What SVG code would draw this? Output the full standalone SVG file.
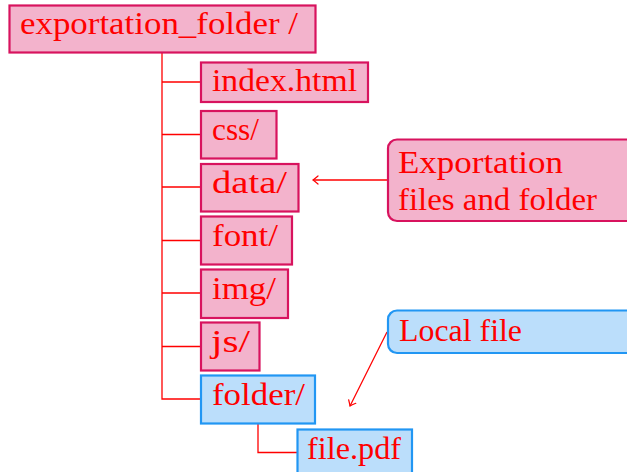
<svg xmlns="http://www.w3.org/2000/svg" width="627" height="472" viewBox="0 0 627 472">
  <defs>
    <style>
      .lbl { font-family: "Liberation Serif", "Times New Roman", serif; font-size: 31px; fill: #ff0000; }
      .pink { fill: #f3b3cc; stroke: #d8135e; stroke-width: 2.2; }
      .blue { fill: #bbdefb; stroke: #2196f3; stroke-width: 2.2; }
      .wire { fill: none; stroke: #ff0000; stroke-width: 1.3; }
    </style>
    <marker id="tip" viewBox="-6 -5 8 10" markerWidth="8" markerHeight="10" refX="0" refY="0" orient="auto" markerUnits="userSpaceOnUse">
      <path d="M -5 -4 Q -1.5 -1 0 0 Q -1.5 1 -5 4" fill="none" stroke="#ff0000" stroke-width="1.2" stroke-linecap="round"/>
    </marker>
  </defs>

  <!-- tree connectors and callout arrows -->
  <g id="connectors">
    <path class="wire" d="M162 53 V399 H201"/>
    <path class="wire" d="M162 82 H201 M162 134.5 H201 M162 187 H201 M162 240.5 H201 M162 293 H201 M162 346.5 H201"/>
    <path class="wire" d="M258 424 V452.5 H297"/>
    <line class="wire" x1="388" y1="180" x2="313" y2="180" marker-end="url(#tip)"/>
    <line class="wire" x1="387" y1="332" x2="350" y2="406" marker-end="url(#tip)"/>
  </g>

  <g id="root">
    <rect class="pink" x="9.5" y="5.5" width="306" height="47"/>
    <text class="lbl" x="20" y="34" textLength="278" lengthAdjust="spacingAndGlyphs">exportation_folder /</text>
  </g>

  <g id="index-html">
    <rect class="pink" x="201" y="62.5" width="167" height="39.5"/>
    <text class="lbl" x="212" y="91" textLength="145" lengthAdjust="spacingAndGlyphs">index.html</text>
  </g>

  <g id="css">
    <rect class="pink" x="201" y="111" width="75.5" height="47.5"/>
    <text class="lbl" x="212" y="139.5" textLength="47" lengthAdjust="spacingAndGlyphs">css/</text>
  </g>

  <g id="data">
    <rect class="pink" x="201" y="164" width="97.5" height="47.5"/>
    <text class="lbl" x="212" y="192.5" textLength="75" lengthAdjust="spacingAndGlyphs">data/</text>
  </g>

  <g id="font">
    <rect class="pink" x="201" y="216.5" width="91" height="48"/>
    <text class="lbl" x="212" y="245.5" textLength="66" lengthAdjust="spacingAndGlyphs">font/</text>
  </g>

  <g id="img">
    <rect class="pink" x="201" y="269.5" width="87" height="48.5"/>
    <text class="lbl" x="212" y="298.5" textLength="64" lengthAdjust="spacingAndGlyphs">img/</text>
  </g>

  <g id="js">
    <rect class="pink" x="201" y="322.5" width="58.5" height="48"/>
    <text class="lbl" x="211" y="351.5" textLength="39" lengthAdjust="spacingAndGlyphs">js/</text>
  </g>

  <g id="folder">
    <rect class="blue" x="201" y="375.5" width="114" height="48"/>
    <text class="lbl" x="212" y="404.5" textLength="93" lengthAdjust="spacingAndGlyphs">folder/</text>
  </g>

  <g id="file-pdf">
    <rect class="blue" x="297.5" y="429.5" width="114.5" height="50"/>
    <text class="lbl" x="307" y="458.5" textLength="94" lengthAdjust="spacingAndGlyphs">file.pdf</text>
  </g>

  <g id="note-exportation">
    <rect class="pink" x="388" y="139.5" width="260" height="81.5" rx="9" ry="9"/>
    <text class="lbl" x="398" y="172.5" textLength="165" lengthAdjust="spacingAndGlyphs">Exportation</text>
    <text class="lbl" x="398" y="210" textLength="199" lengthAdjust="spacingAndGlyphs">files and folder</text>
  </g>

  <g id="note-local">
    <rect class="blue" x="388" y="310.5" width="260" height="42.5" rx="9" ry="9"/>
    <text class="lbl" x="399" y="341" textLength="123" lengthAdjust="spacingAndGlyphs">Local file</text>
  </g>
</svg>
